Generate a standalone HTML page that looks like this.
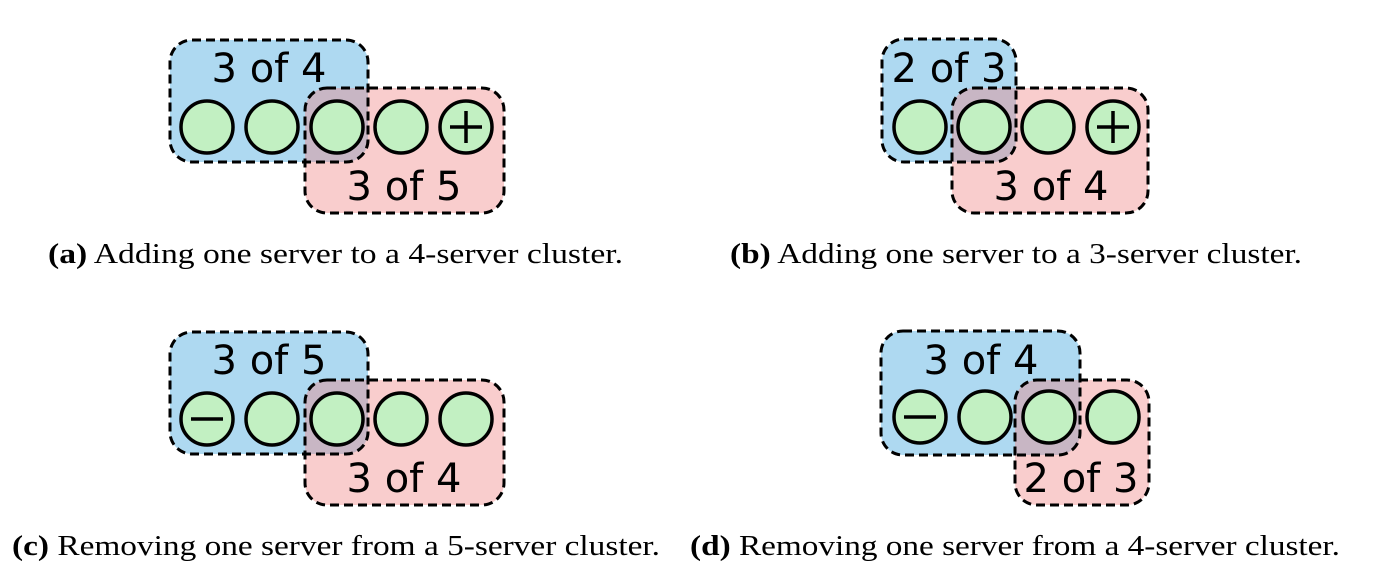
<!DOCTYPE html>
<html><head><meta charset="utf-8"><style>html,body{margin:0;padding:0;background:#fff}svg{display:block}</style></head>
<body>
<svg width="1374" height="574" viewBox="0 0 1374 574" xmlns="http://www.w3.org/2000/svg">
<defs>
<g id="c"><circle r="26" fill="#c2f0c2" stroke="#000" stroke-width="3.5"/></g>
<g id="plus"><circle r="26" fill="#c2f0c2" stroke="#000" stroke-width="3.5"/><path d="M-16 0H16M0-16V16" stroke="#000" stroke-width="3.5"/></g>
<g id="minus"><circle r="26" fill="#c2f0c2" stroke="#000" stroke-width="3.5"/><path d="M-16 0H16" stroke="#000" stroke-width="3.5"/></g>
</defs>
<g font-family="DejaVu Sans, sans-serif" font-size="40">
<!-- (a) -->
<rect x="170" y="40" width="198" height="122" rx="22" fill="#aed9f1"/>
<rect x="305" y="88" width="199" height="125" rx="22" fill="rgb(240,130,130)" fill-opacity="0.4"/>
<rect x="170" y="40" width="198" height="122" rx="22" fill="none" stroke="#000" stroke-width="3" stroke-dasharray="9 5"/>
<rect x="305" y="88" width="199" height="125" rx="22" fill="none" stroke="#000" stroke-width="3" stroke-dasharray="9 5"/>
<use href="#c" x="207" y="127"/><use href="#c" x="272" y="127"/><use href="#c" x="337" y="127"/><use href="#c" x="401" y="127"/><use href="#plus" x="466" y="127"/>
<text x="269" y="82" text-anchor="middle">3 of 4</text>
<text x="404" y="200" text-anchor="middle">3 of 5</text>
<!-- (b) -->
<rect x="882" y="39" width="134" height="123" rx="22" fill="#aed9f1"/>
<rect x="952" y="88" width="196" height="125" rx="22" fill="rgb(240,130,130)" fill-opacity="0.4"/>
<rect x="882" y="39" width="134" height="123" rx="22" fill="none" stroke="#000" stroke-width="3" stroke-dasharray="9 5"/>
<rect x="952" y="88" width="196" height="125" rx="22" fill="none" stroke="#000" stroke-width="3" stroke-dasharray="9 5"/>
<use href="#c" x="920" y="127"/><use href="#c" x="984" y="127"/><use href="#c" x="1048" y="127"/><use href="#plus" x="1113" y="127"/>
<text x="949" y="82" text-anchor="middle">2 of 3</text>
<text x="1051" y="200" text-anchor="middle">3 of 4</text>
<!-- (c) -->
<rect x="170" y="332" width="198" height="122" rx="22" fill="#aed9f1"/>
<rect x="305" y="380" width="199" height="125" rx="22" fill="rgb(240,130,130)" fill-opacity="0.4"/>
<rect x="170" y="332" width="198" height="122" rx="22" fill="none" stroke="#000" stroke-width="3" stroke-dasharray="9 5"/>
<rect x="305" y="380" width="199" height="125" rx="22" fill="none" stroke="#000" stroke-width="3" stroke-dasharray="9 5"/>
<use href="#minus" x="207" y="419"/><use href="#c" x="272" y="419"/><use href="#c" x="337" y="419"/><use href="#c" x="401" y="419"/><use href="#c" x="466" y="419"/>
<text x="269" y="374" text-anchor="middle">3 of 5</text>
<text x="404" y="492" text-anchor="middle">3 of 4</text>
<!-- (d) -->
<rect x="881" y="331" width="199" height="124" rx="22" fill="#aed9f1"/>
<rect x="1015" y="380" width="134" height="125" rx="22" fill="rgb(240,130,130)" fill-opacity="0.4"/>
<rect x="881" y="331" width="199" height="124" rx="22" fill="none" stroke="#000" stroke-width="3" stroke-dasharray="9 5"/>
<rect x="1015" y="380" width="134" height="125" rx="22" fill="none" stroke="#000" stroke-width="3" stroke-dasharray="9 5"/>
<use href="#minus" x="920" y="417"/><use href="#c" x="985" y="417"/><use href="#c" x="1049" y="417"/><use href="#c" x="1113" y="417"/>
<text x="981" y="374" text-anchor="middle">3 of 4</text>
<text x="1081" y="492" text-anchor="middle">2 of 3</text>
</g>
<g font-family="Liberation Serif, serif" font-size="28">
<text x="48" y="263" textLength="575" lengthAdjust="spacingAndGlyphs"><tspan font-weight="bold">(a)</tspan> Adding one server to a 4-server cluster.</text>
<text x="730" y="263" textLength="572" lengthAdjust="spacingAndGlyphs"><tspan font-weight="bold">(b)</tspan> Adding one server to a 3-server cluster.</text>
<text x="12" y="555" textLength="648" lengthAdjust="spacingAndGlyphs"><tspan font-weight="bold">(c)</tspan> Removing one server from a 5-server cluster.</text>
<text x="690" y="555" textLength="650" lengthAdjust="spacingAndGlyphs"><tspan font-weight="bold">(d)</tspan> Removing one server from a 4-server cluster.</text>
</g>
</svg>
</body></html>
